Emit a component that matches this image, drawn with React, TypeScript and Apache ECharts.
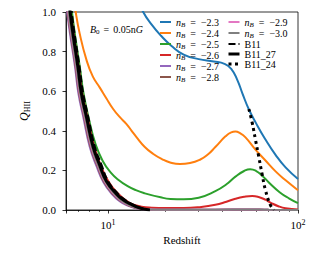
import React, { useEffect, useRef } from "react";
import * as echarts from "echarts";

// ---- data: [redshift, Q_HII] ----
const nB23: [number, number][] = [[14.3,1.07],[15.3,1.0],[17,0.935],[19,0.88],[21.5,0.83],[25,0.785],[30,0.762],[36,0.75],[41,0.738],[44.5,0.713],[48,0.655],[51,0.588],[55,0.51],[60,0.44],[67,0.36],[76,0.28],[86,0.215],[100,0.157]];
const nB24: [number, number][] = [[6.6,1.08],[6.75,1.0],[7.08,0.892],[7.69,0.758],[8.3,0.675],[9.04,0.618],[9.8,0.563],[10.63,0.51],[11.5,0.47],[12.5,0.434],[13.3,0.4],[14.1,0.368],[15.6,0.318],[17.3,0.283],[19.2,0.257],[21.2,0.24],[23.9,0.232],[27,0.237],[30.6,0.255],[33.5,0.28],[36.7,0.318],[41.5,0.372],[44.5,0.392],[46.8,0.396],[49.5,0.388],[52.9,0.367],[59.7,0.305],[67.4,0.25],[76.2,0.195],[86.1,0.15],[100,0.1]];
const nB25: [number, number][] = [[6.3,1.08],[6.45,1.0],[6.68,0.89],[7.1,0.72],[7.42,0.59],[7.92,0.46],[8.6,0.33],[9.4,0.245],[10.3,0.19],[11.4,0.15],[12.6,0.122],[14,0.1],[15.5,0.085],[18.9,0.064],[21.3,0.056],[25,0.054],[30,0.062],[36.7,0.095],[42,0.13],[47,0.17],[52,0.197],[56,0.206],[60,0.198],[65,0.172],[70,0.14],[80,0.09],[90,0.058],[100,0.035]];
const nB26: [number, number][] = [[6.2,1.08],[6.35,1.0],[6.58,0.89],[7.0,0.72],[7.3,0.59],[7.78,0.47],[8.45,0.32],[9.2,0.22],[10.1,0.14],[11.3,0.082],[12.5,0.046],[13.5,0.028],[15,0.017],[17,0.012],[20,0.01],[25,0.01],[30,0.014],[36.7,0.026],[42,0.042],[46.8,0.057],[52,0.067],[57.4,0.071],[62,0.066],[67.4,0.052],[72,0.036],[79.3,0.018],[86,0.009],[100,0.003]];
const nB27: [number, number][] = [[5.95,1.08],[6.08,1.0],[6.3,0.89],[6.7,0.72],[6.97,0.59],[7.4,0.47],[8.0,0.32],[8.7,0.22],[9.45,0.14],[10.6,0.075],[11.5,0.045],[12.5,0.025],[14,0.009],[16,0.003],[20,0.001],[30,0.001],[45,0.002],[55,0.003],[70,0.001],[100,0]];
const nB28: [number, number][] = [[6.0,1.08],[6.12,1.0],[6.35,0.89],[6.75,0.72],[7.03,0.59],[7.47,0.47],[8.08,0.32],[8.8,0.22],[9.55,0.14],[10.75,0.075],[11.7,0.045],[12.7,0.025],[14.2,0.009],[16,0.003],[20,0.001],[30,0.001],[45,0.002],[55,0.003],[70,0.001],[100,0]];
const nB29: [number, number][] = [[6.03,1.08],[6.16,1.0],[6.39,0.89],[6.8,0.72],[7.08,0.59],[7.53,0.47],[8.15,0.32],[8.87,0.22],[9.65,0.14],[10.85,0.075],[11.8,0.045],[12.85,0.025],[14.4,0.009],[16,0.003],[20,0.001],[30,0.001],[45,0.002],[55,0.003],[70,0.001],[100,0]];
const nB30: [number, number][] = [[6.05,1.08],[6.19,1.0],[6.42,0.89],[6.83,0.72],[7.12,0.59],[7.57,0.47],[8.2,0.32],[8.92,0.22],[9.72,0.14],[10.95,0.075],[11.9,0.045],[12.95,0.025],[14.5,0.009],[16,0.003],[20,0.001],[30,0.001],[45,0.002],[55,0.003],[70,0.001],[100,0]];
const B11: [number, number][] = [[6.3,1.08],[6.42,1.0],[6.65,0.89],[7.07,0.72],[7.38,0.59],[7.85,0.47],[8.5,0.32],[9.2,0.23],[10.0,0.145],[11.3,0.08],[12.3,0.05],[13.3,0.03],[15.0,0.008],[16.5,0]];
const B11_27: [number, number][] = [[6.2,1.08],[6.31,1.0],[6.53,0.89],[6.94,0.72],[7.23,0.59],[7.69,0.47],[8.33,0.32],[9.0,0.23],[9.8,0.145],[11.1,0.08],[12.0,0.052],[13.0,0.032],[14.7,0.01],[16.6,0]];
const B11_24: [number, number][] = [[55.1,0.51],[57.4,0.44],[59.7,0.355],[62.1,0.27],[64.6,0.185],[67.4,0.1],[71.6,0.025],[74.7,0.0]];

const nBValues = ["−2.3", "−2.4", "−2.5", "−2.6", "−2.7", "−2.8", "−2.9", "−3.0"];
const seriesNames = ["nB=-2.3", "nB=-2.4", "nB=-2.5", "nB=-2.6", "nB=-2.7", "nB=-2.8", "nB=-2.9", "nB=-3.0", "B11", "B11_27", "B11_24"];
const seriesData = [nB23, nB24, nB25, nB26, nB27, nB28, nB29, nB30, B11, B11_27, B11_24];
const colors = ["#1f77b4", "#ff7f0e", "#2ca02c", "#d62728", "#9467bd", "#8c564b", "#e377c2", "#7f7f7f", "#000000", "#000000", "#000000"];
const minorTickValues = [6, 7, 8, 9, 20, 30, 40, 50, 60, 70, 80, 90];
const yTicks = { min: 0, max: 1, interval: 0.2 };
const xRange = { min: 6, max: 100 };

const FONT = "Liberation Serif";

export default function App() {
  const ref = useRef<HTMLDivElement>(null);
  useEffect(() => {
    if (!ref.current) return;
    const chart = echarts.init(ref.current, null, { renderer: "svg" });
    const legendLabel = (name: string) => {
      const i = seriesNames.indexOf(name);
      if (i < 8) return `{n|n}{b|B}{e|=}{t|${nBValues[i]}}`;
      return `{t|${name}}`;
    };
    const legendRich = {
      n: { fontFamily: FONT, fontStyle: "italic", fontSize: 10, lineHeight: 12, color: "#000" },
      b: { fontFamily: FONT, fontStyle: "italic", fontSize: 7, lineHeight: 7, verticalAlign: "bottom", color: "#000" },
      e: { fontFamily: FONT, fontSize: 10, lineHeight: 12, padding: [0, 5, 0, 5], color: "#000" },
      t: { fontFamily: FONT, fontSize: 10, lineHeight: 12, color: "#000" },
    };
    const legendCommon = {
      orient: "vertical",
      padding: 0,
      itemGap: 0,
      itemWidth: 11,
      itemHeight: 8,
      selectedMode: false,
      formatter: legendLabel,
      itemStyle: { opacity: 0, color: "rgba(0,0,0,0)", borderColor: "rgba(0,0,0,0)", borderWidth: 0 },
      lineStyle: { width: "inherit" },
      textStyle: { fontFamily: FONT, fontSize: 10, color: "#000", rich: legendRich },
    };
    const series = seriesNames.map((name, i) => {
      let lineStyle: any = { color: colors[i], width: 2 };
      if (name === "B11") lineStyle = { color: "#000", width: 2.2, type: [7, 3] };
      if (name === "B11_27") lineStyle = { color: "#000", width: 3 };
      if (name === "B11_24") lineStyle = { color: "#000", width: 3, type: [3, 3.5], cap: "butt" };
      return {
        name,
        type: "line",
        data: seriesData[i],
        xAxisIndex: 0,
        yAxisIndex: 0,
        symbol: "none",
        showSymbol: false,
        smooth: 0.5,
        clip: true,
        color: colors[i],
        lineStyle,
        z: 2 + i,
      };
    });
    const option: any = {
      animation: false,
      textStyle: { fontFamily: FONT },
      grid: { left: 66, right: 33, top: 12, bottom: 43, show: true, borderColor: "#000", borderWidth: 0.8, containLabel: false, outerBoundsMode: "none" },
      legend: [
        { ...legendCommon, data: seriesNames.slice(0, 6), left: 159, top: 17 },
        { ...legendCommon, data: seriesNames.slice(6), left: 227, top: 17 },
      ],
      xAxis: [
        {
          type: "log",
          logBase: 10,
          min: xRange.min,
          max: xRange.max,
          position: "bottom",
          axisLine: { show: true, lineStyle: { color: "#000", width: 0.8 } },
          axisTick: { show: true, length: 3.5, lineStyle: { color: "#000", width: 0.8 } },
          splitLine: { show: false },
          axisLabel: {
            margin: 8,
            color: "#000",
            formatter: (v: number) => {
              const l = Math.log10(v);
              const e = Math.round(l);
              if (Math.abs(l - e) > 1e-6) return "";
              return `{b|10}{e|${e}}`;
            },
            rich: {
              b: { fontFamily: FONT, fontSize: 11, color: "#000", lineHeight: 13 },
              e: { fontFamily: FONT, fontSize: 8, color: "#000", verticalAlign: "top", lineHeight: 8 },
            },
          },
          name: "Redshift",
          nameLocation: "middle",
          nameGap: 24,
          nameTextStyle: { fontFamily: FONT, fontSize: 11, color: "#000" },
        },
        {
          type: "value",
          min: Math.log10(xRange.min),
          max: Math.log10(xRange.max),
          position: "bottom",
          axisLine: { show: false },
          axisLabel: { show: false },
          splitLine: { show: false },
          axisTick: { show: true, length: 2, customValues: minorTickValues.map((v) => Math.log10(v)), lineStyle: { color: "#000", width: 0.6 } },
        },
      ],
      yAxis: {
        type: "value",
        min: yTicks.min,
        max: yTicks.max,
        interval: yTicks.interval,
        axisLine: { show: true, lineStyle: { color: "#000", width: 0.8 } },
        axisTick: { show: true, length: 3.5, lineStyle: { color: "#000", width: 0.8 } },
        splitLine: { show: false },
        axisLabel: { margin: 10, color: "#000", fontFamily: FONT, fontSize: 11, formatter: (v: number) => v.toFixed(1) },
        name: "{q|Q}{s|HII}",
        nameLocation: "middle",
        nameGap: 29,
        nameRotate: 90,
        nameTextStyle: {
          rich: {
            q: { fontFamily: FONT, fontStyle: "italic", fontSize: 12, color: "#000", lineHeight: 14 },
            s: { fontFamily: FONT, fontSize: 8, color: "#000", verticalAlign: "bottom", lineHeight: 8 },
          },
        },
      },
      graphic: [
        {
          type: "text",
          x: 90,
          y: 29,
          z: 10,
          style: {
            text: "{i|B}{s|0}{e|=}{t|0.05n}{i|G}",
            fill: "#000",
            align: "left",
            verticalAlign: "middle",
            rich: {
              i: { fontFamily: FONT, fontStyle: "italic", fontSize: 10, lineHeight: 12, fill: "#000" },
              s: { fontFamily: FONT, fontSize: 7, lineHeight: 7, verticalAlign: "bottom", fill: "#000" },
              e: { fontFamily: FONT, fontSize: 10, lineHeight: 12, padding: [0, 4, 0, 4], fill: "#000" },
              t: { fontFamily: FONT, fontSize: 10, lineHeight: 12, fill: "#000" },
            },
          },
        },
      ],
      series,
    };
    chart.setOption(option);
    return () => chart.dispose();
  }, []);
  return <div ref={ref} style={{ width: 331, height: 253, position: "absolute", left: 0, top: 0 }} />;
}
